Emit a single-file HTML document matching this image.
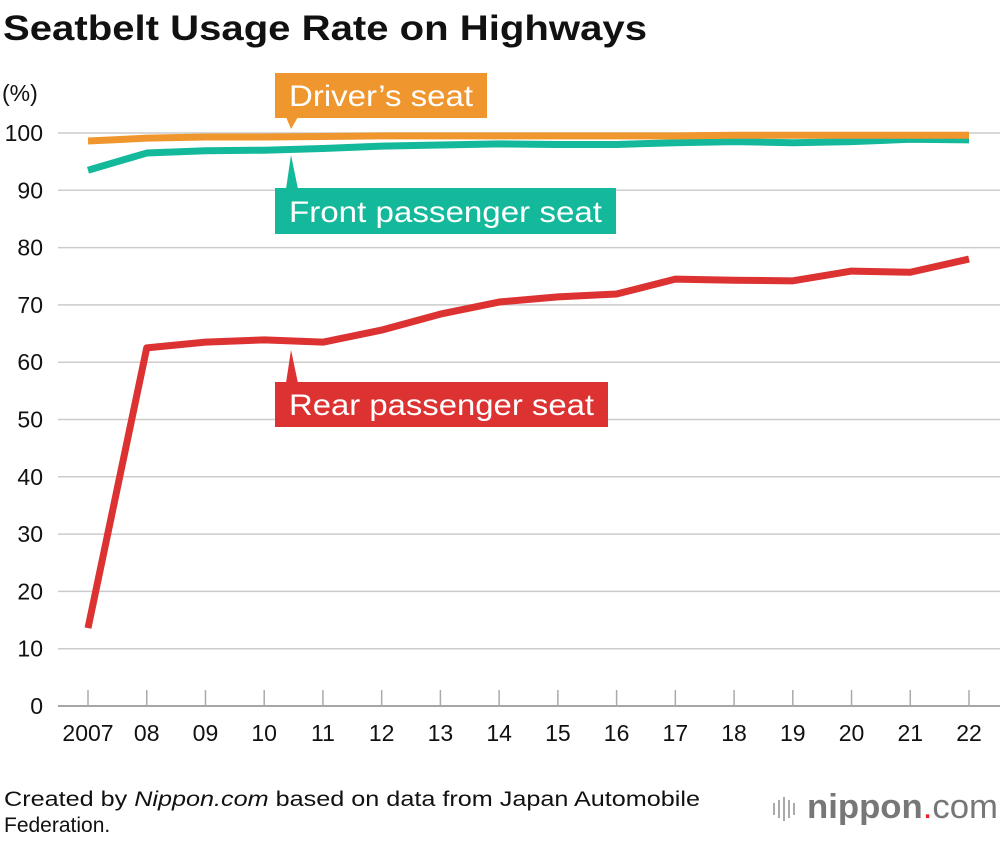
<!DOCTYPE html>
<html><head><meta charset="utf-8"><style>
body{margin:0;background:#fff;width:1000px;height:836px;overflow:hidden;font-family:"Liberation Sans",sans-serif}
</style></head><body>
<svg width="1000" height="836" xmlns="http://www.w3.org/2000/svg" font-family="Liberation Sans, sans-serif">
<text x="3" y="40" font-size="35" font-weight="bold" fill="#111" textLength="644" lengthAdjust="spacingAndGlyphs">Seatbelt Usage Rate on Highways</text>
<text x="2" y="101" font-size="23" fill="#111">(%)</text>
<g id="grid"></g><g id="lines"></g>
<g>
<rect x="275" y="73" width="212" height="45" fill="#f0962e"/><polygon points="286,117 298,117 291,129" fill="#f0962e"/>
<text x="289" y="106" font-size="30" fill="#fff" textLength="184" lengthAdjust="spacingAndGlyphs">Driver’s seat</text></g>
<g>
<rect x="275" y="188" width="341" height="46" fill="#14b89a"/><polygon points="286,189 298,189 291,155" fill="#14b89a"/>
<text x="289" y="222" font-size="30" fill="#fff" textLength="313" lengthAdjust="spacingAndGlyphs">Front passenger seat</text></g>
<g>
<rect x="275" y="382" width="333" height="45" fill="#dc3232"/><polygon points="286,383 298,383 291,350" fill="#dc3232"/>
<text x="289" y="415" font-size="30" fill="#fff" textLength="305" lengthAdjust="spacingAndGlyphs">Rear passenger seat</text></g>
<text x="4" y="806" font-size="21" fill="#111" textLength="696" lengthAdjust="spacingAndGlyphs">Created by <tspan font-style="italic">Nippon.com</tspan> based on data from Japan Automobile</text>
<text x="4" y="832" font-size="21" fill="#111">Federation.</text>
<text x="807" y="818" font-size="34" fill="#777" textLength="191" lengthAdjust="spacingAndGlyphs"><tspan font-weight="bold">nippon</tspan><tspan fill="#e22">.</tspan>com</text>
<g fill="#aaa"><rect x="773" y="803" width="2" height="12"/><rect x="778" y="800" width="2" height="18"/><rect x="783" y="797" width="2" height="24"/><rect x="788" y="800" width="2" height="18"/><rect x="793" y="803" width="2" height="12"/></g>
</svg>
<script>
const years=["2007","08","09","10","11","12","13","14","15","16","17","18","19","20","21","22"];
const yTicks=[0,10,20,30,40,50,60,70,80,90,100];
const driver=[98.6,99.1,99.3,99.3,99.4,99.5,99.5,99.5,99.5,99.5,99.5,99.6,99.6,99.6,99.6,99.6];
const front=[93.5,96.5,96.9,97.0,97.3,97.7,97.9,98.1,98.0,98.0,98.3,98.5,98.3,98.5,98.9,98.8];
const rear=[13.6,62.5,63.5,63.9,63.5,65.6,68.4,70.5,71.4,71.9,74.5,74.3,74.2,75.9,75.7,78.0];
const NS="http://www.w3.org/2000/svg";
const xs=i=>88+i*(969-88)/(years.length-1);
const ys=v=>706-v*5.73;
const grid=document.getElementById('grid'),lines=document.getElementById('lines');
function mk(t,a,p){const e=document.createElementNS(NS,t);for(const k in a)e.setAttribute(k,a[k]);p.appendChild(e);return e;}
yTicks.forEach(v=>{
 const l=mk('line',{x1:58,x2:1000,y1:ys(v),y2:ys(v),stroke:v===0?'#888':'#ccc','stroke-width':1.5},grid);
 
 
 const t=mk('text',{x:43,y:ys(v)+8,'font-size':23,'text-anchor':'end',fill:'#111'},grid);t.textContent=v;
 
 
});
years.forEach((y,i)=>{
 const l=mk('line',{x1:xs(i),x2:xs(i),y1:690,y2:706,stroke:'#aaa','stroke-width':1.5},grid);
 
 
 const t=mk('text',{x:xs(i),y:741,'font-size':23,'text-anchor':'middle',fill:'#111'},grid);t.textContent=y;
 
 
});
[[rear,'#dc3232','rear-line'],[front,'#14b89a','front-line'],[driver,'#f0962e','driver-line']].forEach(([d,c,n])=>{
 const p=mk('polyline',{points:d.map((v,i)=>xs(i)+','+ys(v)).join(' '),fill:'none',stroke:c,'stroke-width':7,'stroke-linejoin':'round'},lines);
 
 
});
</script>
</body></html>
